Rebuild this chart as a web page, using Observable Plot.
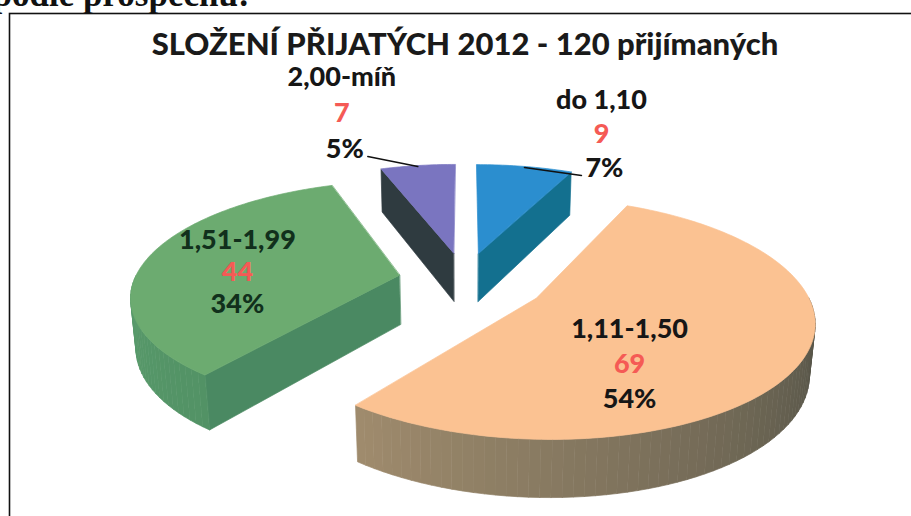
<!DOCTYPE html>
<html><head><meta charset="utf-8">
<script src="https://cdn.jsdelivr.net/npm/d3@7"></script>
<script src="https://cdn.jsdelivr.net/npm/@observablehq/plot@0.6"></script>
<style>body{margin:0;background:#fff} #chart svg{display:block}</style>
</head><body><div id="chart"></div>
<script>
// ---- data ----
const categories = ["do 1,10", "1,11-1,50", "1,51-1,99", "2,00-míň"];
const counts = [9, 69, 44, 7];
const percentLabels = ["7%", "54%", "34%", "5%"];
const title = "SLOŽENÍ PŘIJATÝCH 2012 - 120 přijímaných";
const heading = "podle prospěchu:";

// ---- styles ----
const topColors  = ["#2b8ecf", "#fbc292", "#6cab70", "#7a75c0"];
const sideDark   = ["#0f5f7a", "#4d4e44", "#3f7a55", "#263236"];
const sideLight  = ["#1a80a8", "#c2a57e", "#5a9c6c", "#3d4a66"];
const cutColors  = ["#13708f", "#8a7a5c", "#4a8962", "#2f3b40"];
const explode    = [0.25, 0.31, 0.25, 0.25];
const labelInside = [false, true, true, false];
// label block offsets (px) from the slice anchor, and line gap
const labelShift = [[77, -66], [-45, -4], [-22, -25], [-76, -88]];
const labelGap = [34, 35, 32, 36];
const countColor = "#f55a55";

const W = 911, H = 516;
const view = {cx: 464, cy: 279, P: 265, K: 0.42, D: 5.5, t: 0.21};
const C = Math.sqrt(1 - view.K * view.K);
function proj(X, Y, Z) {
  const dc = Z * C + Y * view.K;
  const s = view.D / (view.D - dc);
  return {x: view.cx + view.P * X * s, y: view.cy + view.P * (Z * view.K - Y * C) * s};
}
const arcs = d3.pie().sort(null).value(d => d)(counts);

const sidePolys = [], topPolys = [];
let pid = 0;
function addPoly(arr, pts, color) {
  const id = pid++;
  pts.forEach(p => arr.push({x: p.x, y: p.y, id, color}));
}
const anchors = [];
arcs.forEach((a, i) => {
  const a0 = a.startAngle, a1 = a.endAngle, m = (a0 + a1) / 2;
  const ox = explode[i] * Math.sin(m), oz = -explode[i] * Math.cos(m);
  const P3 = (th, r, Y) => proj(ox + r * Math.sin(th), Y, oz - r * Math.cos(th));
  const t = view.t;
  const cut = th => [P3(th, 0, 0), P3(th, 1, 0), P3(th, 1, -t), P3(th, 0, -t)];
  if (Math.sin(a0) < -1e-6) addPoly(sidePolys, cut(a0), cutColors[i]);
  if (Math.sin(a1) > 1e-6) addPoly(sidePolys, cut(a1), cutColors[i]);
  const s0 = Math.max(a0, Math.PI / 2), s1 = Math.min(a1, 3 * Math.PI / 2);
  if (s1 > s0) {
    const n = Math.max(1, Math.ceil((s1 - s0) / (Math.PI / 90)));
    const col = d3.interpolateRgb(sideDark[i], sideLight[i]);
    for (let k = 0; k < n; k++) {
      const u0 = s0 + (s1 - s0) * k / n, u1 = s0 + (s1 - s0) * (k + 1) / n;
      const f = ((u0 + u1) / 2 - Math.PI / 2) / Math.PI;
      addPoly(sidePolys, [P3(u0, 1, 0), P3(u1, 1, 0), P3(u1, 1, -t), P3(u0, 1, -t)], col(f));
    }
  }
  const pts = [P3(m, 0, 0)];
  const n = Math.max(2, Math.ceil((a1 - a0) / (Math.PI / 180)));
  for (let k = 0; k <= n; k++) pts.push(P3(a0 + (a1 - a0) * k / n, 1, 0));
  addPoly(topPolys, pts, topColors[i]);
  anchors.push(labelInside[i] ? P3(m, 0.55, 0) : P3(m, 1, 0));
});

const labelRows = [];
const leaders = [];
anchors.forEach((p, i) => {
  const bx = p.x + labelShift[i][0], by = p.y + labelShift[i][1];
  const gap = labelGap[i];
  const dark = i === 2 ? "#11301c" : "#161616";
  labelRows.push({x: bx, y: by, text: categories[i], fill: dark});
  labelRows.push({x: bx, y: by + gap, text: String(counts[i]), fill: countColor});
  labelRows.push({x: bx + (labelInside[i] ? 0 : 3), y: by + 2 * gap, text: percentLabels[i], fill: dark});
  if (!labelInside[i]) {
    const px = bx + 3, py = by + 2 * gap;
    const edge = px + (p.x > px ? 23 : -23);
    leaders.push({x: p.x, y: p.y + 1, id: i}, {x: edge, y: py + 7, id: i});
  }
});

const chart = Plot.plot({
  width: W, height: H, margin: 0,
  x: {domain: [0, W], range: [0, W], axis: null},
  y: {domain: [0, H], range: [0, H], axis: null},
  color: {type: "identity"},
  style: {background: "#fff", overflow: "visible"},
  marks: [
    Plot.frame({insetLeft: 9, insetTop: 13, insetRight: -10, insetBottom: -10, stroke: "#111", strokeWidth: 1.6}),
    Plot.text([heading], {frameAnchor: "top-left", dx: -8, dy: -19, text: d => d, textAnchor: "start", lineAnchor: "top",
      fontFamily: "Liberation Serif", fontWeight: "bold", fontSize: 35, fill: "#111"}),
    Plot.text([title], {frameAnchor: "top", dx: 9, dy: 32, text: d => d, lineAnchor: "top",
      fontFamily: "Lato", fontWeight: 900, fontSize: 31, fill: "#1a1a1a"}),
    Plot.line(sidePolys, {x: "x", y: "y", z: "id", fill: "color", stroke: "color", strokeWidth: 0.7, curve: "linear-closed"}),
    Plot.line(topPolys, {x: "x", y: "y", z: "id", fill: "color", stroke: "color", strokeWidth: 0.7, curve: "linear-closed"}),
    Plot.line(leaders, {x: "x", y: "y", z: "id", stroke: "#111", strokeWidth: 1.5}),
    Plot.text(labelRows, {x: "x", y: "y", text: "text", fill: "fill", fontFamily: "Lato", fontWeight: 900, fontSize: 27})
  ]
});
document.getElementById("chart").appendChild(chart);
</script></body></html>
